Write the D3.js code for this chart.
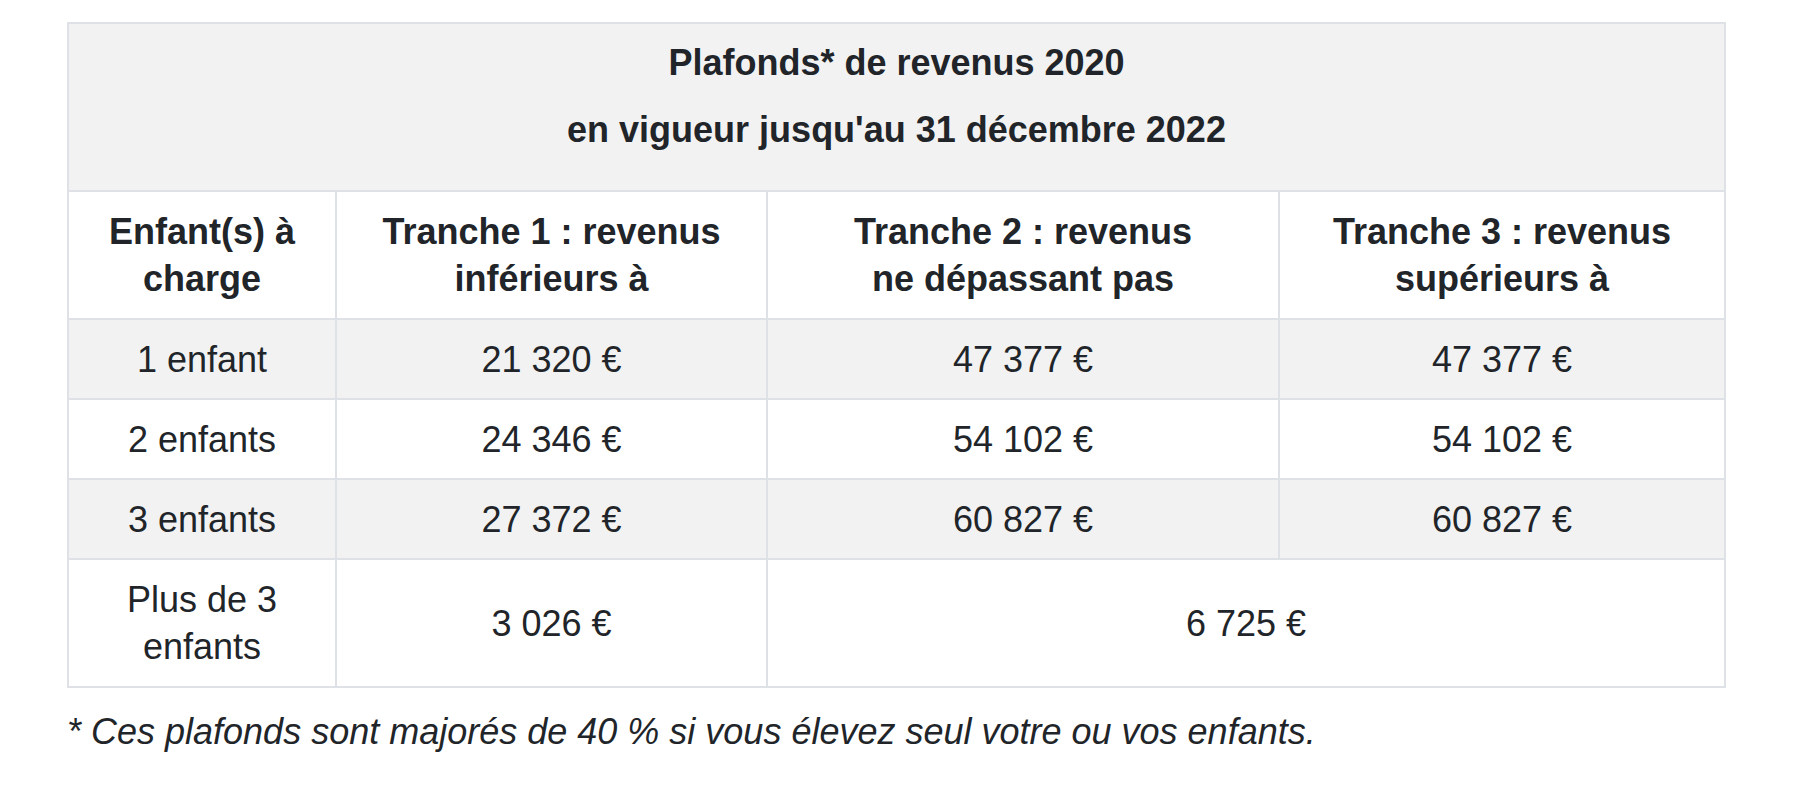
<!DOCTYPE html>
<html>
<head>
<meta charset="utf-8">
<script src="https://cdn.jsdelivr.net/npm/d3@7"></script>
<style>
  body { margin: 0; background: #fff; }
  svg { display: block; font-family: "Liberation Sans", Arial, Helvetica, sans-serif; }
</style>
</head>
<body>
<svg id="chart" width="1804" height="788"></svg>
<script>
// table content
var titleLines = ["Plafonds* de revenus 2020", "en vigueur jusqu'au 31 décembre 2022"];
var columnHeaders = [
    ["Enfant(s) à", "charge"],
    ["Tranche 1 : revenus", "inférieurs à"],
    ["Tranche 2 : revenus", "ne dépassant pas"],
    ["Tranche 3 : revenus", "supérieurs à"]
];
var rowLabels = [["1 enfant"], ["2 enfants"], ["3 enfants"], ["Plus de 3", "enfants"]];
var tranche1 = [21320, 24346, 27372, 3026];
var tranche2 = [47377, 54102, 60827, 6725];
var tranche3 = [47377, 54102, 60827, null]; // last row: tranche 2 and 3 share one cell
var footnote = "* Ces plafonds sont majorés de 40 % si vous élevez seul votre ou vos enfants.";

// layout
var tableLeft = 67, tableTop = 22;
var colWidths = [268, 431, 512, 446];
var rowHeights = [168, 128, 80, 80, 80, 128];
var lineHeight = 47.5;
var gray = "#f2f2f2", border = "#dee2e6", ink = "#212529";

var fr = d3.formatLocale({decimal: ",", thousands: " ", grouping: [3], currency: ["", " €"]});
var euro = function(v) { return fr.format(",d")(v) + " €"; };

var colEdges = [tableLeft].concat(Array.from(d3.cumsum(colWidths), function(d) { return tableLeft + d; }));
var rowEdges = [tableTop].concat(Array.from(d3.cumsum(rowHeights), function(d) { return tableTop + d; }));
var x = d3.scaleOrdinal().domain(d3.range(colEdges.length)).range(colEdges);
var y = d3.scaleOrdinal().domain(d3.range(rowEdges.length)).range(rowEdges);

// build the cell list
var cells = [];
cells.push({row: 0, col: 0, span: 4, lines: titleLines, bold: true, fill: gray, gap: 67, shift: -11});
columnHeaders.forEach(function(h, i) {
    cells.push({row: 1, col: i, span: 1, lines: h, bold: true, fill: "#fff"});
});
rowLabels.forEach(function(lab, i) {
    var fill = (i % 2 === 0 && i < 3) ? gray : "#fff";
    cells.push({row: i + 2, col: 0, span: 1, lines: lab, fill: fill});
    cells.push({row: i + 2, col: 1, span: 1, lines: [euro(tranche1[i])], fill: fill});
    if (tranche3[i] == null) {
        cells.push({row: i + 2, col: 2, span: 2, lines: [euro(tranche2[i])], fill: fill});
    } else {
        cells.push({row: i + 2, col: 2, span: 1, lines: [euro(tranche2[i])], fill: fill});
        cells.push({row: i + 2, col: 3, span: 1, lines: [euro(tranche3[i])], fill: fill});
    }
});

var svg = d3.select("#chart");

var cell = svg.selectAll("g.cell").data(cells).enter().append("g").attr("class", "cell");

cell.append("rect")
    .attr("x", function(d) { return x(d.col) + 1; })
    .attr("y", function(d) { return y(d.row) + 1; })
    .attr("width", function(d) { return x(d.col + d.span) - x(d.col); })
    .attr("height", function(d) { return y(d.row + 1) - y(d.row); })
    .attr("fill", function(d) { return d.fill; })
    .attr("stroke", border)
    .attr("stroke-width", 2);

cell.each(function(d) {
    var cx = (x(d.col) + x(d.col + d.span)) / 2 + 1;
    var cy = (y(d.row) + y(d.row + 1)) / 2 + 1 + (d.shift || 0);
    var gap = d.gap || lineHeight;
    var n = d.lines.length;
    d3.select(this).selectAll("text").data(d.lines).enter().append("text")
        .attr("x", cx)
        .attr("y", function(t, i) { return cy + (i - (n - 1) / 2) * gap; })
        .attr("dy", "0.35em")
        .attr("text-anchor", "middle")
        .attr("font-size", 36)
        .attr("font-weight", d.bold ? "bold" : "normal")
        .attr("fill", ink)
        .text(function(t) { return t; });
});

svg.append("text")
    .attr("x", tableLeft)
    .attr("y", 744)
    .attr("font-size", 36)
    .attr("font-style", "italic")
    .attr("fill", ink)
    .text(footnote);
</script>
</body>
</html>
